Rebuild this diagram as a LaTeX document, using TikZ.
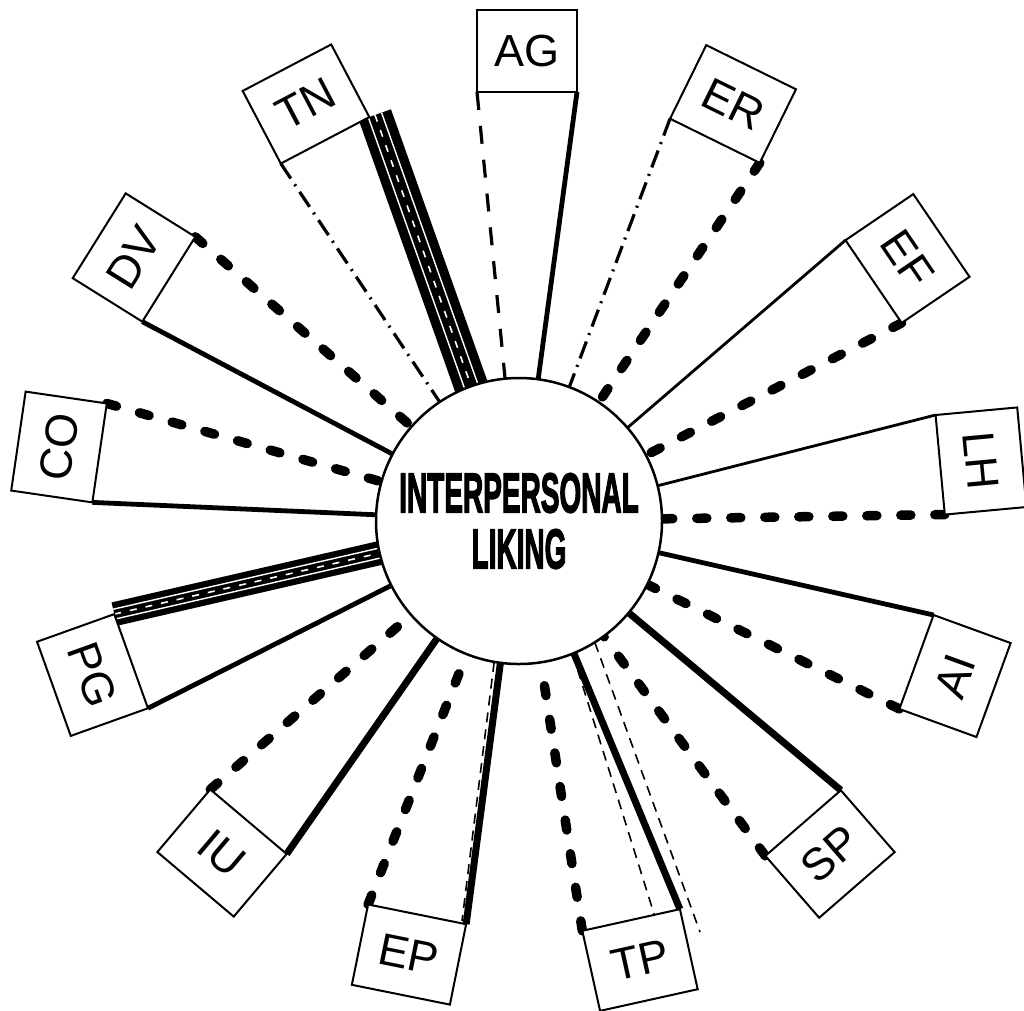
\documentclass[tikz,border=0pt]{standalone}
\usepackage{fontspec}
\setmainfont{Liberation Sans}
\newfontfamily\hubfont[FakeBold=3]{Liberation Sans}
\usepackage{graphicx}
\usetikzlibrary{calc}
\pgfdeclarelayer{bg}
\pgfsetlayers{bg,main}
\begin{document}
\begin{tikzpicture}[x=1pt,y=-1pt,
  box/.style={draw, line width=2pt, fill=white, rectangle, minimum width=100pt, minimum height=82pt,
    inner sep=0pt, outer sep=0pt, font=\fontsize{45}{45}\selectfont},
  hub/.style={draw, circle, fill=white, line width=2.5pt, minimum size=286pt, inner sep=0pt, outer sep=0pt,
    align=center, font=\hubfont\bfseries\fontsize{56}{56}\selectfont},
  thindash/.style={line width=3.2pt, dash pattern=on 18pt off 16pt},
  dashdot/.style={line width=3.2pt, dash pattern=on 18pt off 7pt on 2pt off 7pt},
  blob/.style={line width=9.5pt, line cap=round, dash pattern=on 10pt off 24pt},
  solidthin/.style={line width=2.8pt},
  solidmed/.style={line width=4.8pt},
  solidthick/.style={line width=7pt},
  companion/.style={line width=1.6pt, dash pattern=on 10pt off 7pt},
  stripe/.style={white, line width=1.4pt},
  banddash/.style={white, line width=1.6pt, dash pattern=on 7pt off 9pt}
]
\useasboundingbox (0,0) rectangle (1024,1010);

% central hub
\node[hub] (C) at (519,521) {\scalebox{0.5}[1]{INTERPERSONAL}\\\scalebox{0.5}[1]{LIKING}};

% boxes (upper half: text up = outward, lower half: text up = inward)
\node[box, rotate=0]     (AG) at (527,51)      {AG};
\node[box, rotate=-26.2] (ER) at (733,104)     {ER};
\node[box, rotate=-55.8] (EF) at (907.5,258.5) {EF};
\node[box, rotate=-84.7] (LH) at (981,461)     {LH};
\node[box, rotate=70]    (AI) at (955,676)     {AI};
\node[box, rotate=41]    (SP) at (830,854)     {SP};
\node[box, rotate=12.5]  (TP) at (640,960)     {TP};
\node[box, rotate=-11.4] (EP) at (409,954.5)   {EP};
\node[box, rotate=-40.2] (IU) at (222,853)     {IU};
\node[box, rotate=-70.3] (PG) at (92.5,675)    {PG};
\node[box, rotate=81.7]  (CO) at (59,447)      {CO};
\node[box, rotate=58]    (DV) at (134,257.5)   {DV};
\node[box, rotate=27.7]  (TN) at (306,104)     {TN};

\coordinate (tpx) at (700,932);
\coordinate (tpy) at (655,917);
\coordinate (epx) at (462,921);

% band end points
\coordinate (ts) at ($(TN.south east)!6pt!90:(C.center)$);
\coordinate (te) at ($(C.center)!141pt!(ts)$);
\coordinate (ps) at (PG.north west);
\coordinate (pe) at ($(C.center)!141pt!(ps)$);

\begin{pgfonlayer}{bg}
\draw[thindash]   (AG.south west) -- (C);
\draw[solidmed]   (AG.south east) -- (C);
\draw[dashdot]    (ER.south west) -- (C);
\draw[blob]       (ER.south east) -- (C);
\draw[solidthin]  (EF.south west) -- (C);
\draw[blob]       (EF.south east) -- (C);
\draw[solidthin]  (LH.south west) -- (C);
\draw[blob]       (LH.south east) -- (C);
\draw[solidmed]   (AI.north east) -- (C);
\draw[blob]       (AI.north west) -- (C);
\draw[solidthick] (SP.north east) -- (C);
\draw[blob]       (SP.north west) -- (C);
\draw[solidthick] (TP.north east) -- (C);
\draw[blob]       (TP.north west) -- (C);
\draw[companion]  (C.-58.4) -- (tpx);
\draw[companion]  (C.-68) -- (tpy);
\draw[solidthick] (EP.north east) -- (C);
\draw[blob]       (EP.north west) -- (C);
\draw[companion]  (C.-100.1) -- (epx);
\draw[solidthick] (IU.north east) -- (C);
\draw[blob]       (IU.north west) -- (C);
\draw[solidmed]   (PG.north east) -- (C);
% heavy band PG
\fill ($(ps)!12pt!90:(C.center)$) -- ($(pe)!12pt!-90:(ps)$) -- ($(pe)!12pt!90:(ps)$) -- ($(ps)!12pt!-90:(C.center)$) -- cycle;
\draw[stripe] ($(ps)!5pt!90:(C.center)$) -- ($(pe)!5pt!-90:(ps)$);
\draw[stripe] ($(ps)!5pt!-90:(C.center)$) -- ($(pe)!5pt!90:(ps)$);
\draw[banddash] (ps) -- (pe);
\draw[solidmed]   (CO.south west) -- (C);
\draw[blob]       (CO.south east) -- (C);
\draw[solidmed]   (DV.south west) -- (C);
\draw[blob]       (DV.south east) -- (C);
\draw[dashdot]    (TN.south west) -- (C);
% heavy band TN
\fill ($(ts)!17pt!90:(C.center)$) -- ($(te)!17pt!-90:(ts)$) -- ($(te)!17pt!90:(ts)$) -- ($(ts)!17pt!-90:(C.center)$) -- cycle;
\draw[stripe] ($(ts)!7pt!90:(C.center)$) -- ($(te)!7pt!-90:(ts)$);
\draw[stripe] ($(ts)!7pt!-90:(C.center)$) -- ($(te)!7pt!90:(ts)$);
\draw[banddash] (ts) -- (te);
\end{pgfonlayer}
\end{tikzpicture}
\end{document}
